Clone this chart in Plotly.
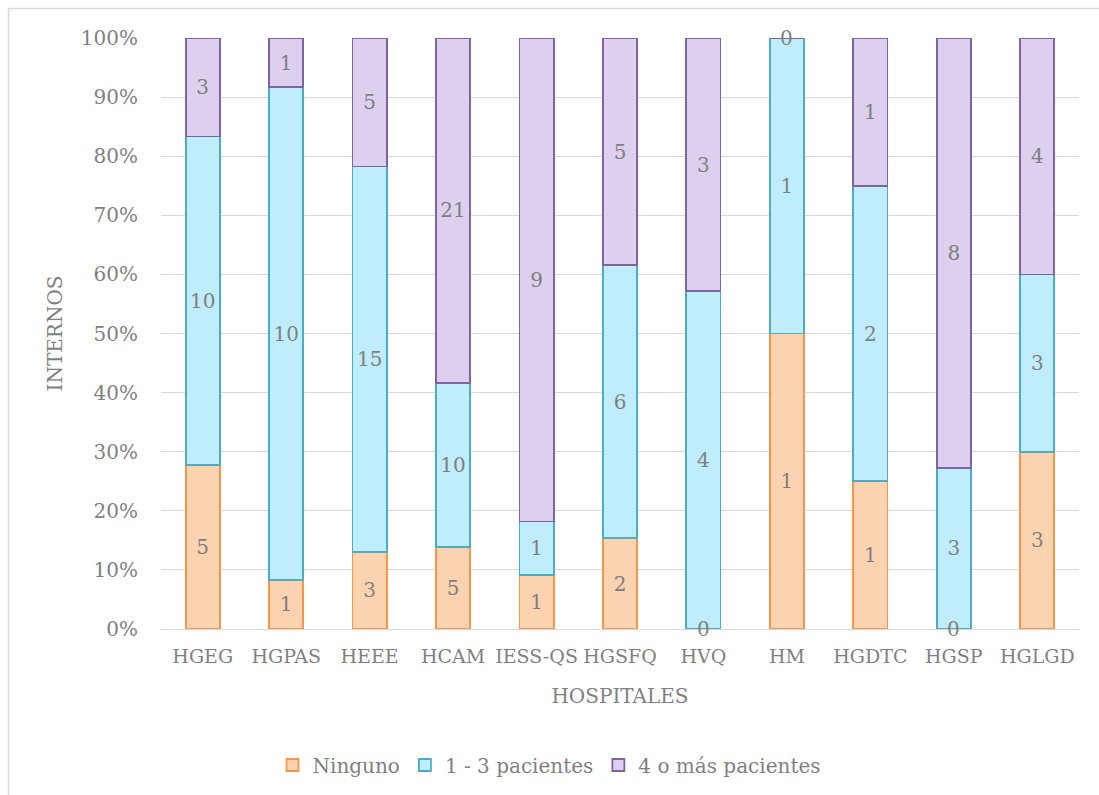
import plotly.graph_objects as go

hospitales = ["HGEG", "HGPAS", "HEEE", "HCAM", "IESS-QS", "HGSFQ", "HVQ", "HM", "HGDTC", "HGSP", "HGLGD"]
ninguno = [5, 1, 3, 5, 1, 2, 0, 1, 1, 0, 3]
uno_tres = [10, 10, 15, 10, 1, 6, 4, 1, 2, 3, 3]
cuatro_mas = [3, 1, 5, 21, 9, 5, 3, 0, 1, 8, 4]
series_names = ["Ninguno", "1 - 3 pacientes", "4 o más pacientes"]
y_ticks = [0, 10, 20, 30, 40, 50, 60, 70, 80, 90, 100]

fills = ["#fcd3b1", "#bfedfb", "#dcd0ee"]
borders = ["#f79646", "#4bacc6", "#8064a2"]
txt_gray = "#7f7f7f"
font_family = "DejaVu Serif"

fig = go.Figure()
all_series = [ninguno, uno_tres, cuatro_mas]
for name, vals, fc, bc in zip(series_names, all_series, fills, borders):
    fig.add_trace(go.Bar(
        x=hospitales, y=vals, name=name,
        marker=dict(color=fc, line=dict(color=bc, width=1.8)),
        text=[str(v) if v != 0 else "" for v in vals],
        textposition="inside", insidetextanchor="middle", textangle=0,
        constraintext="none",
        textfont=dict(family=font_family, size=20, color=txt_gray),
        hoverinfo="skip",
    ))

# labels for zero-valued segments, placed at the segment's position
annotations = []
for i, h in enumerate(hospitales):
    total = sum(s[i] for s in all_series)
    cum = 0
    for s in all_series:
        if s[i] == 0:
            annotations.append(dict(x=h, y=100.0 * cum / total, xref="x", yref="y",
                                    text="0", showarrow=False, yanchor="middle",
                                    font=dict(family=font_family, size=20, color=txt_gray)))
        cum += s[i]

W, H = 1099, 795
L, R, T, B = 161, 20, 38, 166
pw, ph = W - L - R, H - T - B
def px(x):
    return (x - L) / pw
def py(y):
    return (H - B - y) / ph

shapes = [
    dict(type="line", xref="paper", yref="paper", x0=px(8.5), x1=px(8.5), y0=py(8.5), y1=py(800),
         line=dict(color="#d9d9d9", width=1.5)),
    dict(type="line", xref="paper", yref="paper", x0=px(8.5), x1=px(1105), y0=py(8.5), y1=py(8.5),
         line=dict(color="#d9d9d9", width=1.5)),
]

fig.update_layout(
    barmode="stack", barnorm="percent", bargap=0.59,
    width=W, height=H,
    margin=dict(l=L, r=R, t=T, b=B, pad=0, autoexpand=False),
    paper_bgcolor="white", plot_bgcolor="white",
    font=dict(family=font_family, color=txt_gray, size=20),
    showlegend=True,
    legend=dict(orientation="h", xref="container", yref="container", x=0.5, xanchor="center",
                y=1 - 765 / 795, yanchor="middle", font=dict(size=20, color=txt_gray),
                itemwidth=30, tracegroupgap=0, traceorder="normal"),
    annotations=annotations,
    shapes=shapes,
)
fig.update_xaxes(
    showgrid=False, showline=True, linecolor="#d9d9d9", linewidth=1, automargin=False,
    tickfont=dict(size=19, color=txt_gray), ticks="", ticklabelstandoff=10, tickangle=0,
    title=dict(text="HOSPITALES", font=dict(size=20, color=txt_gray), standoff=23),
)
fig.update_yaxes(
    range=[0, 100], tickvals=y_ticks, ticktext=[f"{v}%" for v in y_ticks], automargin=False,
    showgrid=True, gridcolor="#d9d9d9", gridwidth=1, zeroline=False,
    tickfont=dict(size=20, color=txt_gray), ticks="", ticklabelstandoff=22,
    title=dict(text="INTERNOS", font=dict(size=20, color=txt_gray), standoff=12),
)

fig.write_html("out.html")
